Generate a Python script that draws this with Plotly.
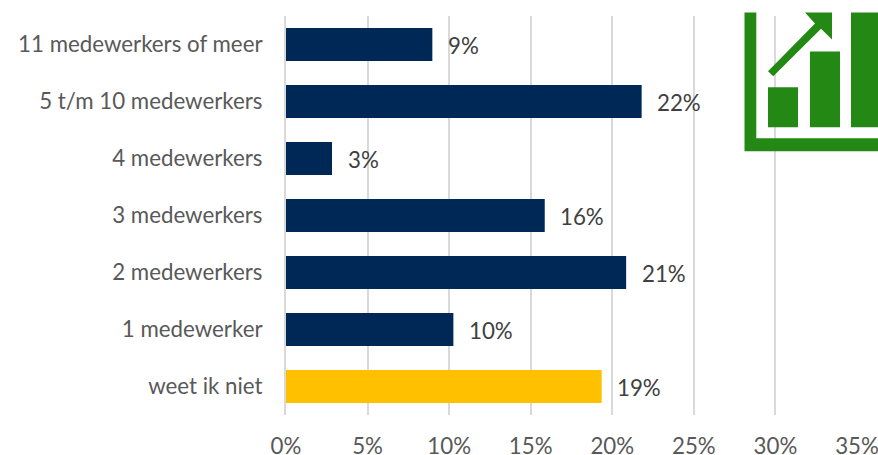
import plotly.graph_objects as go

categories = ["11 medewerkers of meer", "5 t/m 10 medewerkers", "4 medewerkers", "3 medewerkers",
              "2 medewerkers", "1 medewerker", "weet ik niet"]
values = [8.97, 21.8, 2.82, 15.86, 20.85, 10.26, 19.35]
bar_colors = ["#002856"] * 6 + ["#FFC000"]
x_ticks = [0, 5, 10, 15, 20, 25, 30, 35]
x_labels = ["0%", "5%", "10%", "15%", "20%", "25%", "30%", "35%"]

W, H = 878, 455
L, R, T, B = 286, 857, 15.5, 415.5
FONT = "Lato, Carlito, Open Sans, sans-serif"
SIZE = 22.3
GREEN = "#248814"

def px(x): return (x - L) / (R - L)
def py(y): return (B - y) / (B - T)

def poly(points):
    return "M " + " L ".join(f"{px(x):.5f},{py(y):.5f}" for x, y in points) + " Z"

icon = [
    [(744.5, 12), (756.3, 12), (756.3, 138), (878, 138), (878, 151), (744.5, 151)],
    [(768, 87), (798, 87), (798, 127), (768, 127)],
    [(810, 51), (840, 51), (840, 127), (810, 127)],
    [(851, 12), (878, 12), (878, 127), (851, 127)],
    [(768, 71), (815, 23), (805, 12), (832, 12), (832, 39), (821, 28.3), (773.3, 76)],
]

fig = go.Figure(go.Bar(
    y=categories, x=values, orientation="h", width=0.577,
    marker=dict(color=bar_colors, line=dict(width=0)), hoverinfo="skip",
))

annotations = [
    dict(x=v, y=c, xref="x", yref="y", text=f"{round(v)}%", showarrow=False, xanchor="left",
         xshift=13.5, yshift=-1, font=dict(family=FONT, size=SIZE, color="#404040"))
    for c, v in zip(categories, values)
]

fig.update_layout(
    width=W, height=H, autosize=False,
    margin=dict(l=L, r=W - R, t=T, b=H - B, pad=0),
    paper_bgcolor="white", plot_bgcolor="white", showlegend=False,
    font=dict(family=FONT, size=SIZE, color="#595959"),
    annotations=annotations,
    shapes=[dict(type="path", xref="paper", yref="paper", path=poly(p), fillcolor=GREEN,
                 line=dict(width=0), layer="above") for p in icon],
    xaxis=dict(range=[0, 35], tickvals=x_ticks, ticktext=x_labels, showgrid=True, automargin=False,
               gridcolor="#D9D9D9", gridwidth=2, zeroline=False, showline=False,
               ticks="outside", ticklen=11, tickcolor="rgba(0,0,0,0)", ticklabeloverflow="allow",
               tickfont=dict(family=FONT, size=SIZE, color="#595959")),
    yaxis=dict(categoryorder="array", categoryarray=categories[::-1], showgrid=False, automargin=False,
               zeroline=False, showline=True, linecolor="#D9D9D9", linewidth=2,
               ticks="outside", ticklen=17, tickcolor="rgba(0,0,0,0)",
               tickfont=dict(family=FONT, size=SIZE, color="#595959")),
)
fig.write_html("out.html", config={"displayModeBar": False},
               post_script="document.body.style.margin='0';document.documentElement.style.overflow='hidden';")
